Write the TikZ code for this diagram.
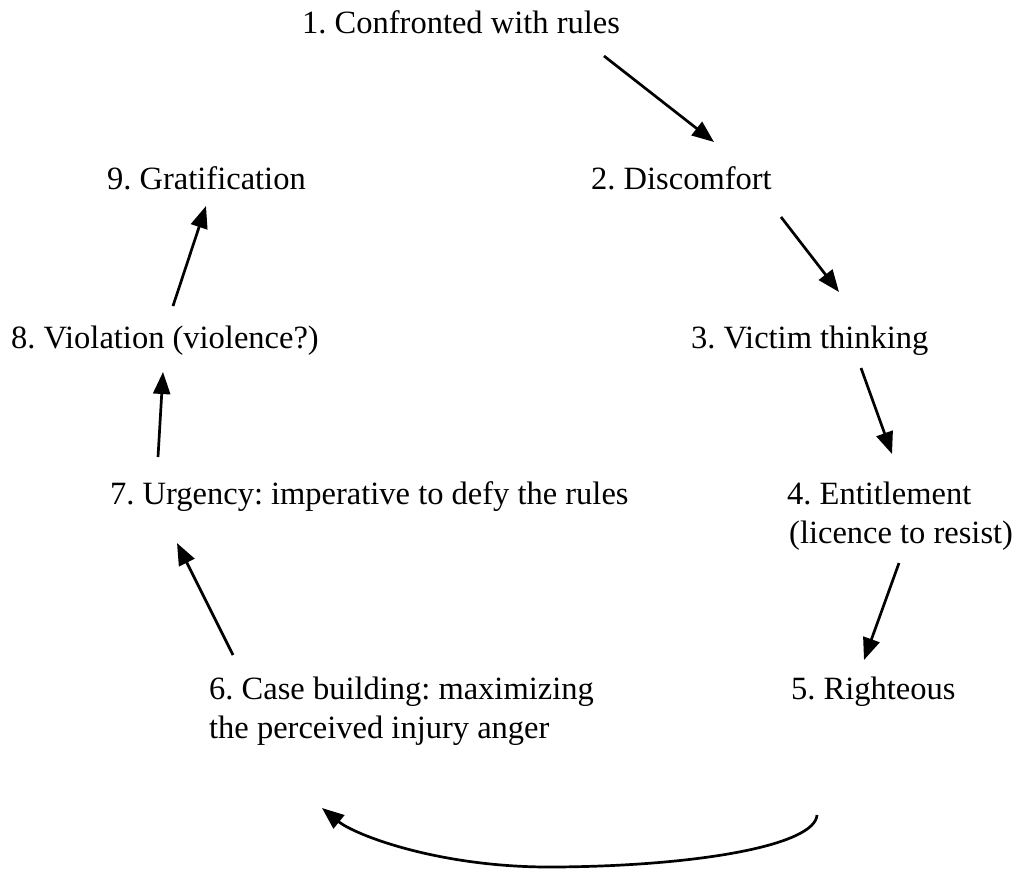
\documentclass[tikz,border=0pt]{standalone}
\usepackage{fontspec}
\setmainfont{Liberation Serif}
\usetikzlibrary{arrows.meta}
\begin{document}
\frenchspacing
\begin{tikzpicture}[x=1pt,y=-1pt,
  lbl/.style={anchor=base west,inner sep=0pt,font=\fontsize{32.5}{38}\selectfont\frenchspacing},
  arr/.style={line width=2.7pt,-{Triangle[length=22pt,width=17pt]}}]
\useasboundingbox (0,0) rectangle (1018,871);
\node[lbl] (n1) at (302,33) {1. Confronted with rules};
\node[lbl] (n2) at (591,189) {2. Discomfort};
\node[lbl] (n9) at (107,189) {9. Gratification};
\node[lbl] (n3) at (691,348) {3. Victim thinking};
\node[lbl] (n8) at (11,348) {8. Violation (violence?)};
\node[lbl] (n7) at (110,504) {7. Urgency: imperative to defy the rules};
\node[lbl] (n4a) at (787,504) {4. Entitlement};
\node[lbl] (n4b) at (789,543) {(licence to resist)};
\node[lbl] (n6a) at (209,699) {6. Case building: maximizing};
\node[lbl] (n6b) at (209,738) {the perceived injury anger};
\node[lbl] (n5) at (791,699) {5. Righteous};
\coordinate (a1s) at (604,56);  \coordinate (a1e) at (714,142);
\coordinate (a2s) at (781,217); \coordinate (a2e) at (839,292);
\coordinate (a3s) at (861,368); \coordinate (a3e) at (892,454);
\coordinate (a4s) at (899,563); \coordinate (a4e) at (864,660);
\coordinate (a6s) at (233,655); \coordinate (a6e) at (177,543);
\coordinate (a7s) at (158,457); \coordinate (a7e) at (163,372);
\coordinate (a8s) at (173,306); \coordinate (a8e) at (206,206);
\coordinate (cs) at (817,815);  \coordinate (cm) at (555,867); \coordinate (ce) at (322,808);
\draw[arr] (a1s) -- (a1e);
\draw[arr] (a2s) -- (a2e);
\draw[arr] (a3s) -- (a3e);
\draw[arr] (a4s) -- (a4e);
\draw[arr] (a6s) -- (a6e);
\draw[arr] (a7s) -- (a7e);
\draw[arr] (a8s) -- (a8e);
\draw[arr] (cs) .. controls (815,845) and (700,866) .. (cm) .. controls (440,868) and (355,835) .. (ce);
\end{tikzpicture}
\end{document}
